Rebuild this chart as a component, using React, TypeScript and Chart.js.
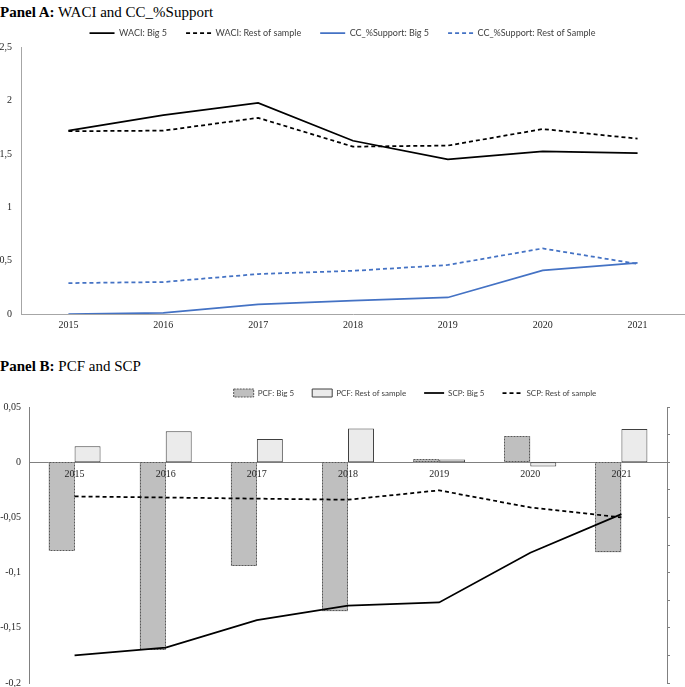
import React, { useEffect, useRef } from 'react';
import { Chart, registerables } from 'chart.js';

Chart.register(...registerables);

const years = ['2015', '2016', '2017', '2018', '2019', '2020', '2021'];

// Panel A
const waciBig5 = [1.72, 1.865, 1.98, 1.625, 1.45, 1.525, 1.51];
const waciRest = [1.715, 1.72, 1.84, 1.57, 1.58, 1.735, 1.645];
const ccBig5 = [0, 0.01, 0.09, 0.125, 0.155, 0.41, 0.48];
const ccRest = [0.29, 0.3, 0.375, 0.405, 0.46, 0.615, 0.47];

// Panel B
const pcfBig5 = [-0.08, -0.17, -0.094, -0.135, 0.0025, 0.0235, -0.0815];
const pcfRest = [0.0144, 0.028, 0.021, 0.0305, 0.0025, -0.004, 0.03];
const scpBig5 = [-0.175, -0.168, -0.143, -0.13, -0.127, -0.082, -0.047];
const scpRest = [-0.031, -0.032, -0.033, -0.034, -0.0255, -0.041, -0.05];

const fmt = (v: any) => String(Math.round(Number(v) * 1000) / 1000).replace('.', ',');

const serif = 'Liberation Serif';
const tickColor = '#262626';

const makeLabels = (chart: any) => {
  const items = (Chart.defaults.plugins.legend.labels as any).generateLabels(chart);
  return items.map((it: any) => {
    const ds = chart.data.datasets[it.datasetIndex];
    if (ds.type === 'bar') {
      it.pointStyle = 'rect';
      it.lineWidth = 1;
      it.fillStyle = ds.backgroundColor;
      it.strokeStyle = ds.legendBorder;
      it.lineDash = ds.dottedBorder ? [2, 1] : [];
    } else {
      it.pointStyle = 'line';
      it.lineWidth = ds.borderWidth;
      it.strokeStyle = ds.borderColor;
      it.lineDash = ds.borderDash || [];
    }
    return it;
  });
};

const dottedBarBorder = {
  id: 'dottedBarBorder',
  afterDatasetDraw(chart: any, args: any) {
    const ds = chart.data.datasets[args.index] as any;
    if (!ds.dottedBorder) return;
    const ctx = chart.ctx;
    ctx.save();
    ctx.strokeStyle = ds.dottedBorder;
    ctx.lineWidth = 1;
    ctx.setLineDash([2, 1]);
    args.meta.data.forEach((bar: any) => {
      const { x, y, base, width } = bar.getProps(['x', 'y', 'base', 'width'], true);
      const l = Math.round(x - width / 2) + 0.5;
      const r = Math.round(x + width / 2) - 0.5;
      const t = Math.round(Math.min(y, base)) + 0.5;
      const b = Math.round(Math.max(y, base)) - 0.5;
      ctx.strokeRect(l, t, r - l, Math.max(b - t, 0));
    });
    ctx.restore();
  },
};

export default function App() {
  const refA = useRef<HTMLCanvasElement>(null);
  const refB = useRef<HTMLCanvasElement>(null);

  useEffect(() => {
    const chartA = new Chart(refA.current as HTMLCanvasElement, {
      type: 'line',
      data: {
        labels: years,
        datasets: [
          { label: 'WACI: Big 5', data: waciBig5, borderColor: '#000000', backgroundColor: '#000000', borderWidth: 1.75, pointRadius: 0, tension: 0 },
          { label: 'WACI: Rest of sample', data: waciRest, borderColor: '#000000', backgroundColor: '#000000', borderWidth: 1.75, borderDash: [4, 3], pointRadius: 0, tension: 0 },
          { label: 'CC_%Support: Big 5', data: ccBig5, borderColor: '#4472C4', backgroundColor: '#4472C4', borderWidth: 1.75, pointRadius: 0, tension: 0 },
          { label: 'CC_%Support: Rest of Sample', data: ccRest, borderColor: '#4472C4', backgroundColor: '#4472C4', borderWidth: 1.75, borderDash: [4, 3], pointRadius: 0, tension: 0 },
        ],
      },
      options: {
        animation: false,
        responsive: false,
        layout: { padding: { top: 9.5, left: 0, right: 0, bottom: 0 } },
        plugins: {
          legend: {
            maxHeight: 45.5,
            labels: {
              usePointStyle: true,
              pointStyleWidth: 25,
              padding: 19,
              color: '#404040',
              font: { family: 'Lato', size: 9 },
              generateLabels: makeLabels,
            },
          } as any,
          tooltip: { enabled: false },
        },
        scales: {
          x: {
            offset: true,
            grid: { display: false, drawTicks: false },
            border: { color: '#a6a6a6' },
            ticks: { padding: 5, color: tickColor, font: { family: serif, size: 10 } },
            afterFit: (s: any) => { s.height = 26; },
          },
          y: {
            min: 0,
            max: 2.5,
            grid: { display: false, drawTicks: false },
            border: { color: '#a6a6a6' },
            ticks: { stepSize: 0.5, padding: 9, color: tickColor, font: { family: serif, size: 10 }, callback: fmt },
            afterFit: (s: any) => { s.width = 21; },
          },
        },
      } as any,
    });

    const chartB = new Chart(refB.current as HTMLCanvasElement, {
      type: 'bar',
      data: {
        labels: years,
        datasets: [
          { type: 'bar', label: 'PCF: Big 5', data: pcfBig5, backgroundColor: '#bfbfbf', borderWidth: 0, dottedBorder: '#595959', legendBorder: '#595959', order: 2 } as any,
          { type: 'bar', label: 'PCF: Rest of sample', data: pcfRest, backgroundColor: '#ebebeb', borderColor: '#404040', borderWidth: 1, borderSkipped: false, legendBorder: '#404040', order: 2 } as any,
          { type: 'line', label: 'SCP: Big 5', data: scpBig5, borderColor: '#000000', backgroundColor: '#000000', borderWidth: 1.75, pointRadius: 0, tension: 0, order: 1 } as any,
          { type: 'line', label: 'SCP: Rest of sample', data: scpRest, borderColor: '#000000', backgroundColor: '#000000', borderWidth: 1.75, borderDash: [4, 3], pointRadius: 0, tension: 0, order: 1 } as any,
        ],
      },
      options: {
        animation: false,
        responsive: false,
        datasets: { bar: { categoryPercentage: 0.57, barPercentage: 1 } },
        layout: { padding: { top: 1, left: 0, right: 0, bottom: 17 } },
        plugins: {
          legend: {
            maxHeight: 39,
            labels: {
              usePointStyle: true,
              pointStyleWidth: 20,
              padding: 18,
              color: '#404040',
              font: { family: 'Lato', size: 8 },
              sort: (a: any, b: any) => a.datasetIndex - b.datasetIndex,
              generateLabels: makeLabels,
            },
          } as any,
          tooltip: { enabled: false },
        },
        scales: {
          x: {
            position: { y: 0 },
            offset: true,
            grid: { display: false, drawTicks: false },
            border: { color: '#808080', dash: [2, 2] },
            ticks: { z: 1, padding: 6, color: tickColor, font: { family: serif, size: 10 } },
          },
          y: {
            min: -0.2,
            max: 0.05,
            grid: { display: false, drawTicks: false },
            border: { color: '#808080', dash: [2, 2] },
            ticks: { stepSize: 0.05, padding: 8, color: tickColor, font: { family: serif, size: 10 }, callback: fmt },
            afterFit: (s: any) => { s.width = 29; },
          },
          y2: {
            position: 'right',
            min: -0.2,
            max: 0.05,
            grid: { drawOnChartArea: false, drawTicks: true, tickLength: 3, color: '#808080' },
            border: { color: '#808080', dash: [2, 2] },
            ticks: { display: false, stepSize: 0.025 },
            afterFit: (s: any) => { s.width = 163; },
          },
        },
      } as any,
      plugins: [dottedBarBorder],
    });

    return () => {
      chartA.destroy();
      chartB.destroy();
    };
  }, []);

  const titleStyle: React.CSSProperties = {
    position: 'absolute',
    left: 0,
    fontFamily: '"Liberation Serif", serif',
    fontSize: 15,
    lineHeight: '18px',
    whiteSpace: 'nowrap',
    color: '#000',
  };

  return (
    <div style={{ position: 'absolute', left: 0, top: 0, width: 685, height: 687, overflow: 'hidden', background: '#ffffff' }}>
      <div style={{ ...titleStyle, top: 3 }}><b>Panel A:</b> WACI and CC_%Support</div>
      <div style={{ ...titleStyle, top: 357 }}><b>Panel B:</b> PCF and SCP</div>
      <canvas ref={refA} width={685} height={340} style={{ position: 'absolute', left: 0, top: 0, display: 'block' }} />
      <canvas ref={refB} width={830} height={330} style={{ position: 'absolute', left: 0, top: 370, display: 'block' }} />
    </div>
  );
}
